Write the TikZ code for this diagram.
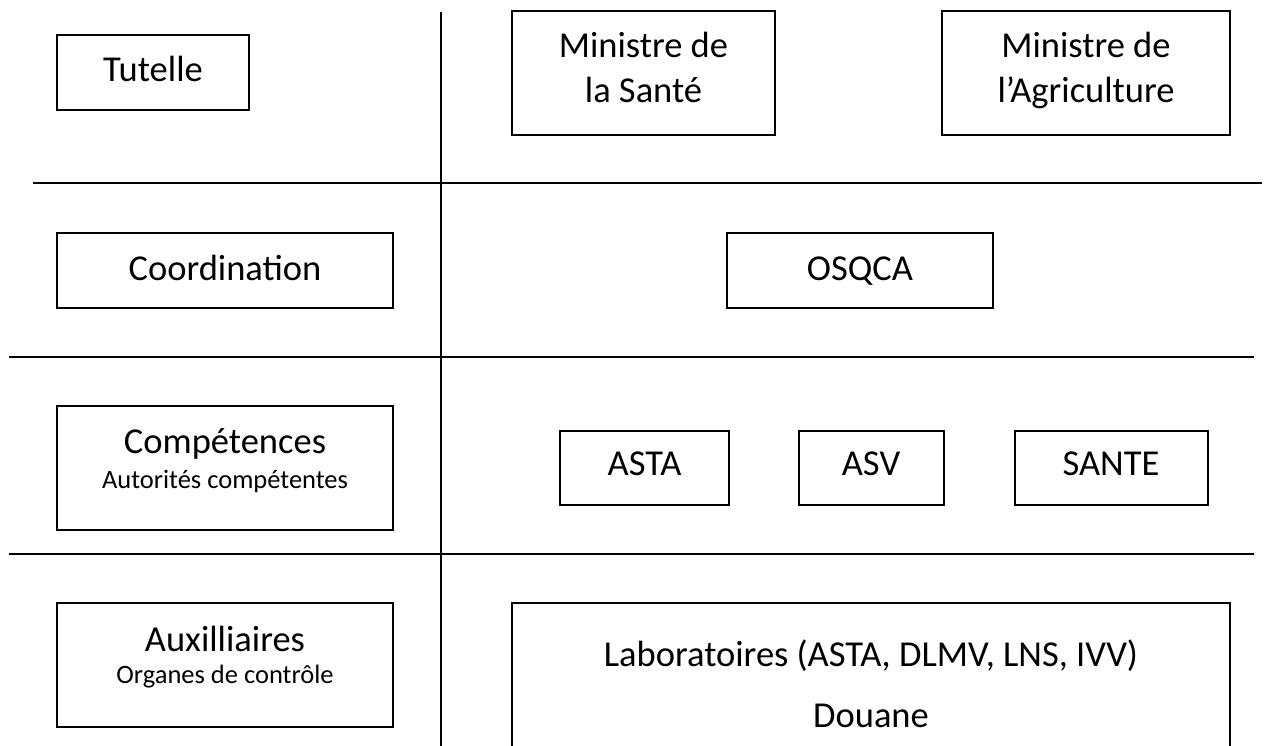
\documentclass[tikz,border=0pt]{standalone}
\usepackage{fontspec}
\setmainfont{Carlito}
\begin{document}
\begin{tikzpicture}[x=1pt,y=-1pt,
  box/.style={draw, line width=2pt, inner sep=0pt},
  big/.style={anchor=base, inner sep=0pt, font=\fontsize{36.5}{44.5}\selectfont},
  small/.style={anchor=base, inner sep=0pt, font=\fontsize{26.5}{32}\selectfont},
  sep/.style={line width=2pt}]
\useasboundingbox (0,0) rectangle (1266,746);

% separators
\coordinate (vtop) at (441,12);
\coordinate (vbot) at (441,760);
\coordinate (h1l) at (33,183);
\coordinate (h1r) at (1262,183);
\coordinate (h2l) at (9,357);
\coordinate (h2r) at (1254,357);
\coordinate (h3l) at (9,554);
\coordinate (h3r) at (1254,554);
\draw[sep] (vtop) -- (vbot);
\draw[sep] (h1l) -- (h1r);
\draw[sep] (h2l) -- (h2r);
\draw[sep] (h3l) -- (h3r);

% left column boxes
\node[box, minimum width=192pt, minimum height=75pt] (tutelle) at (153,72.5) {};
\node[big] (tutelleT) at (153,82) {Tutelle};

\node[box, minimum width=336pt, minimum height=75pt] (coord) at (225,270.5) {};
\node[big] (coordT) at (225,280) {Coordination};

\node[box, minimum width=336pt, minimum height=124pt] (comp) at (225,468) {};
\node[big] (compT) at (225,453) {Compétences};
\node[small] (compS) at (225,488) {Autorités compétentes};

\node[box, minimum width=336pt, minimum height=124pt] (aux) at (225,665) {};
\node[big] (auxT) at (225,651) {Auxilliaires};
\node[small] (auxS) at (225,683) {Organes de contrôle};

% right side
\node[box, minimum width=263pt, minimum height=124pt] (sante) at (643.5,73) {};
\node[big] (santeA) at (643.5,58) {Ministre de};
\node[big] (santeB) at (643.5,103) {la Santé};

\node[box, minimum width=288pt, minimum height=124pt] (agri) at (1086,73) {};
\node[big] (agriA) at (1086,58) {Ministre de};
\node[big] (agriB) at (1086,103) {l’Agriculture};

\node[box, minimum width=266pt, minimum height=75pt] (osqca) at (860,270.5) {};
\node[big] (osqcaT) at (860,280) {OSQCA};

\node[box, minimum width=169pt, minimum height=74pt] (asta) at (644.5,468) {};
\node[big] (astaT) at (644.5,475) {ASTA};

\node[box, minimum width=145pt, minimum height=74pt] (asv) at (871,468) {};
\node[big] (asvT) at (871,475) {ASV};

\node[box, minimum width=193pt, minimum height=74pt] (santeC) at (1111,468) {};
\node[big] (santeCT) at (1111,475) {SANTE};

\node[box, minimum width=718pt, minimum height=167pt] (labs) at (871,686.5) {};
\node[big] (labsA) at (871,666) {Laboratoires (ASTA, DLMV, LNS, IVV)};
\node[big] (labsB) at (871,727) {Douane};
\end{tikzpicture}
\end{document}
